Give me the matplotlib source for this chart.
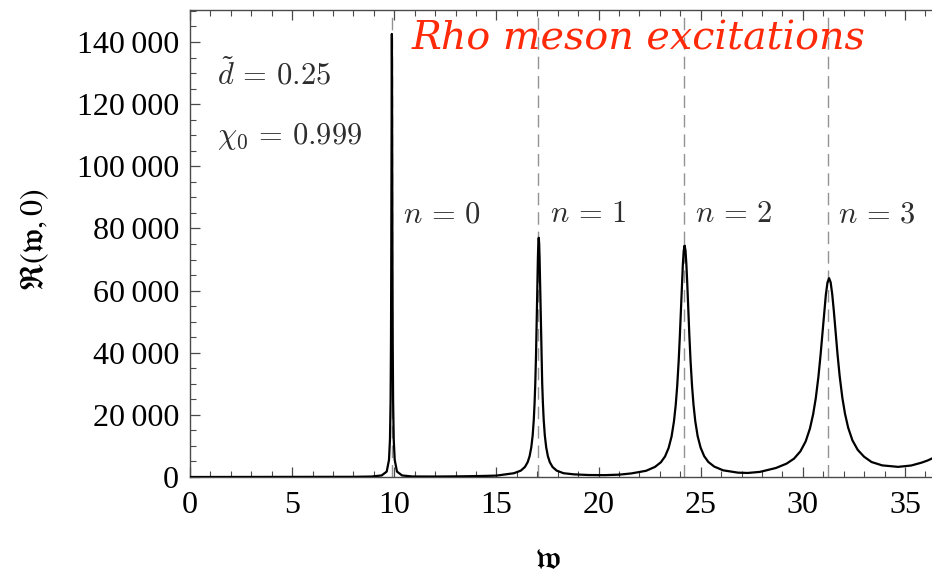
import matplotlib
matplotlib.use("Agg")
import matplotlib.pyplot as plt
from matplotlib.ticker import MultipleLocator, FuncFormatter

# Spectral function samples: frequency w and value R(w, 0)
w_vals = [0, 3, 6, 8, 8.88, 9.38, 9.628, 9.74, 9.7876, 9.8184, 9.838, 9.852,
          9.8632, 9.8716, 9.88, 9.8884, 9.8968, 9.908, 9.922, 9.9416, 9.9724,
          10.02, 10.132, 10.38, 10.88, 12.0, 13.3, 14.3, 15.0,
          15.855, 16.192, 16.395, 16.53, 16.624, 16.705, 16.773, 16.827, 16.867,
          16.901, 16.935, 16.962, 16.989, 17.009, 17.029, 17.050, 17.07,
          17.090, 17.111, 17.131, 17.151, 17.178, 17.205, 17.239, 17.273, 17.313,
          17.367, 17.435, 17.516, 17.61, 17.745, 17.948, 18.285, 18.8, 19.5,
          20.3, 21.0,
          21.6, 22.325, 22.76, 23.05, 23.253, 23.427, 23.572, 23.688, 23.775,
          23.847, 23.92, 23.978, 24.036, 24.079, 24.123, 24.166, 24.21,
          24.254, 24.297, 24.341, 24.384, 24.442, 24.5, 24.573, 24.645, 24.732,
          24.848, 24.993, 25.167, 25.37, 25.66, 26.095, 26.82, 27.3,
          27.9, 28.68, 29.2, 29.564, 29.876, 30.136, 30.344, 30.5, 30.63, 30.76,
          30.864, 30.968, 31.046, 31.124, 31.202, 31.28,
          31.358, 31.436, 31.514, 31.592, 31.696, 31.80, 31.93, 32.06, 32.216,
          32.424, 32.684, 32.996, 33.36, 33.88, 34.66, 35.3, 35.8, 36.1, 36.4]
r_vals = [0, 10, 30, 60, 150, 500, 1740, 5490, 12000, 24400, 43900, 71300,
          104800, 130800, 142600, 130800, 104800, 71300, 43900, 24400, 12000,
          5490, 1740, 500, 170, 150, 220, 330, 450,
          1216, 2050, 3230, 4790, 6730, 9560, 13400, 18380, 23900,
          30190, 38630, 47070, 56650, 64090, 70610, 75290, 77000,
          75290, 70610, 64090, 56650, 47070, 38630, 30190, 23900, 18380,
          13400, 9560, 6730, 4790, 3230, 2050, 1216, 850, 640,
          600, 750,
          1150, 2000, 3250, 4750, 6620, 9350, 13050, 17860, 23190,
          29260, 37400, 45540, 54790, 61970, 68260, 72770, 74500,
          72870, 68360, 62070, 54890, 45640, 37500, 29360, 23290, 17960,
          13150, 9450, 6720, 4850, 3350, 2150, 1400, 1300,
          1650, 2900, 4300, 5900, 8250, 11470, 15590, 20150, 25340, 32300,
          39260, 47180, 53320, 58700, 62560, 64000,
          62660, 58810, 53440, 47310, 39410, 32470, 25540, 20380, 15860,
          11800, 8730, 6520, 4820, 3740, 3260, 3700, 4600, 5300, 6200]

# Mode positions marked with dashed guides and their labels
mode_w = [9.89, 17.04, 24.18, 31.24]
mode_labels = [r"$n\,=\,0$", r"$n\,=\,1$", r"$n\,=\,2$", r"$n\,=\,3$"]
label_w = [10.43, 17.62, 24.72, 31.72]

plt.rcParams["font.family"] = ["Liberation Serif", "DejaVu Serif"]
plt.rcParams["mathtext.fontset"] = "cm"

fig = plt.figure(figsize=(9.32, 5.74), dpi=100)
ax = fig.add_axes([190 / 932, 97 / 574, 742 / 932, 467 / 574])

ax.set_xlim(0, 742 / 20.43)
ax.set_ylim(0, 467 / 62.14 * 20000)

for xv in mode_w:
    ax.axvline(xv, color="#939393", lw=1.0, dashes=(9, 5), zorder=1)

ax.plot(w_vals, r_vals, color="black", lw=1.6, zorder=3,
        solid_joinstyle="round")

axis_col = "#4a4a4a"
for side in ["left", "bottom", "top"]:
    ax.spines[side].set_color(axis_col)
    ax.spines[side].set_linewidth(1.0)
ax.spines["right"].set_visible(False)

ax.xaxis.set_major_locator(MultipleLocator(5))
ax.xaxis.set_minor_locator(MultipleLocator(1))
ax.yaxis.set_major_locator(MultipleLocator(20000))
ax.yaxis.set_minor_locator(MultipleLocator(5000))
ax.yaxis.set_major_formatter(
    FuncFormatter(lambda v, p: f"{int(round(v)):,}".replace(",", "\u2009")))

ax.tick_params(which="both", direction="in", top=True, right=False,
               color=axis_col, labelsize=23, labelcolor="black")
ax.tick_params(which="major", length=7, width=0.9, pad=8)
ax.tick_params(which="minor", length=4, width=0.8)
ax.tick_params(axis="x", which="major", pad=10)

text_col = "#2e2e2e"
ax.text(1.32, 129400, r"$\tilde{d}\,=\,0.25$", fontsize=22, color=text_col,
        ha="left", va="center")
ax.text(1.32, 109500, r"$\chi_0\,=\,0.999$", fontsize=22, color=text_col,
        ha="left", va="center")
for xv, lab in zip(label_w, mode_labels):
    ax.text(xv, 84400, lab, fontsize=22, color=text_col, ha="left", va="center")

ax.text(10.87, 141000, "Rho meson excitations", fontsize=28.5, color="#ff2a0a",
        style="italic", family="DejaVu Serif", ha="left", va="center")

fig.text(548 / 932, 1 - 560 / 574, r"$\mathfrak{w}$", fontsize=24,
         math_fontfamily="stix", ha="center", va="center")
fig.text(35 / 932, 1 - 240 / 574, r"$\mathfrak{R}(\mathfrak{w},0)$", fontsize=23,
         math_fontfamily="stix", rotation=90, ha="center", va="center")

fig.savefig("out.png", dpi=100)
